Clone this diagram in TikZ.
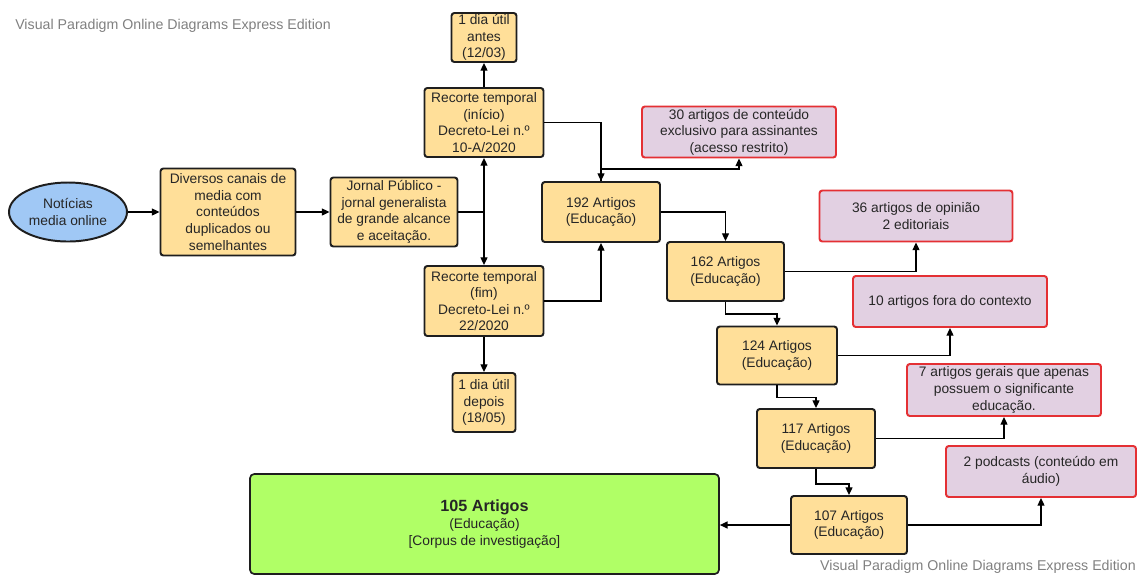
\documentclass[tikz,border=0pt]{standalone}
\usepackage{fontspec}
\setmainfont{Liberation Sans}
\usetikzlibrary{arrows.meta,shapes.geometric}
\definecolor{yfill}{RGB}{255,223,153}
\definecolor{rfill}{RGB}{226,208,226}
\definecolor{rline}{RGB}{228,48,52}
\definecolor{gfill}{RGB}{176,255,102}
\definecolor{bfill}{RGB}{160,200,245}
\definecolor{dline}{RGB}{30,30,30}
\definecolor{wmark}{RGB}{128,128,128}
\tikzset{
  sz/.style 2 args={minimum width=#1*0.025cm, minimum height=#2*0.025cm},
  base/.style={align=center, inner sep=1pt, font=\fontsize{9.8}{11.8}\selectfont, text=black!85},
  ybox/.style={base, draw=dline, fill=yfill, line width=1.4pt, rounded corners=2pt},
  rbox/.style={base, draw=rline, fill=rfill, line width=1.4pt, rounded corners=2pt},
  gbox/.style={base, draw=dline, fill=gfill, line width=1.2pt, rounded corners=3pt},
  ebox/.style={base, ellipse, draw=dline, fill=bfill, line width=1.4pt, inner sep=0pt},
  arr/.style={draw=black, line width=0.9pt, -{Triangle[length=5.5pt,width=5pt]}},
  ln/.style={draw=black, line width=0.9pt},
  wm/.style={font=\fontsize{10.1}{12}\selectfont, text=wmark, inner sep=0pt}
}
\begin{document}
\begin{tikzpicture}[x=0.025cm, y=-0.025cm]
\useasboundingbox (0,0) rectangle (1137,575);
\node[wm, anchor=west] (wm1) at (15,26) {Visual Paradigm Online Diagrams Express Edition};
\node[wm, anchor=east] (wm2) at (1136,567) {Visual Paradigm Online Diagrams Express Edition};

\node[ebox, sz={118}{59}] (ell) at (68,212) {Notícias\\media online};
\node[ybox, sz={135}{87}] (div) at (228,212) {Diversos canais de\\media com\\conteúdos\\duplicados ou\\semelhantes};
\node[ybox, sz={127}{69}] (jor) at (394,212) {Jornal Público -\\jornal generalista\\de grande alcance\\e aceitação.};
\node[ybox, sz={119}{69}] (ini) at (484,122.5) {Recorte temporal\\(início)\\Decreto-Lei n.º\\10-A/2020};
\node[ybox, sz={65}{49}] (antes) at (484,37.5) {1 dia útil\\antes\\(12/03)};
\node[ybox, sz={119}{70}] (fim) at (484,301) {Recorte temporal\\(fim)\\Decreto-Lei n.º\\22/2020};
\node[ybox, sz={63}{59}] (depois) at (484,402.5) {1 dia útil\\depois\\(18/05)};
\node[ybox, sz={118}{60}] (a192) at (601,212) {192 Artigos\\(Educação)};
\node[rbox, sz={194}{51}] (c30) at (739,132) {30 artigos de conteúdo\\exclusivo para assinantes\\(acesso restrito)};
\node[ybox, sz={117}{59}] (a162) at (725.5,271.5) {162 Artigos\\(Educação)};
\node[rbox, sz={193}{51}] (o36) at (916,216) {36 artigos de opinião\\2 editoriais};
\node[rbox, sz={194}{51}] (f10) at (950,301.5) {10 artigos fora do contexto};
\node[ybox, sz={120}{58}] (a124) at (777,355.5) {124 Artigos\\(Educação)};
\node[rbox, sz={194}{52}] (g7) at (1004,390) {7 artigos gerais que apenas\\possuem o significante\\educação.};
\node[ybox, sz={118}{59}] (a117) at (816,438.5) {117 Artigos\\(Educação)};
\node[rbox, sz={190}{51}] (p2) at (1041,471.5) {2 podcasts (conteúdo em\\áudio)};
\node[ybox, sz={116}{58}] (a107) at (849,525) {107 Artigos\\(Educação)};
\node[gbox, sz={469}{100}] (grn) at (484.5,524) {{\fontsize{11.5}{14}\selectfont\bfseries 105 Artigos}\\(Educação)\\{[Corpus de investigação]}};

\coordinate (J) at (484,212);
\coordinate (k) at (0,169);

\draw[arr] (ell) -- (div);
\draw[arr] (div) -- (jor);
\draw[ln] (jor.east) -- (J);
\draw[arr] (J) -- (ini.south);
\draw[arr] (J) -- (fim.north);
\draw[arr] (ini.north) -- (antes.south);
\draw[arr] (fim.south) -- (depois.north);
\draw[arr] (ini.east) -| (a192.north);
\draw[arr] (a192.north) -- (a192.north |- k) -| (c30.south);
\draw[arr] (fim.east) -| (a192.south);
\draw[arr] (a192.east) -| (a162.north);
\draw[arr] (a162.east) -| (o36.south);
\draw[arr] (a162.south) -- ++(0,12) -| (a124.north);
\draw[arr] (a124.east) -| (f10.south);
\draw[arr] (a124.south) -- ++(0,12) -| (a117.north);
\draw[arr] (a117.east) -| (g7.south);
\draw[arr] (a117.south) -- ++(0,15) -| (a107.north);
\draw[arr] (a107.east) -| (p2.south);
\draw[arr] (a107.west) -- (grn.east |- a107.west);
\end{tikzpicture}
\end{document}
